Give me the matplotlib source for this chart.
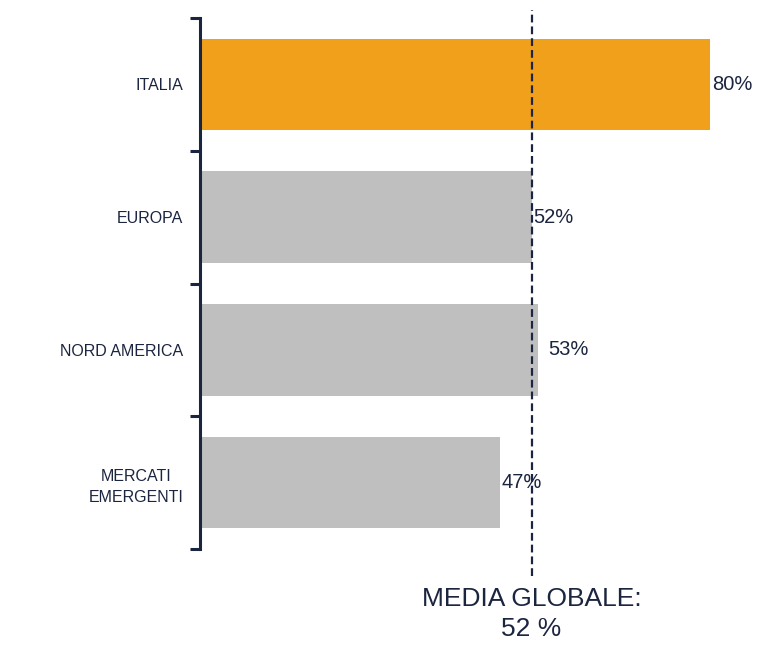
import matplotlib
matplotlib.use("Agg")
import matplotlib.pyplot as plt

plt.rcParams['font.family'] = ['Liberation Sans', 'DejaVu Sans']

categorie = ["ITALIA", "EUROPA", "NORD AMERICA", "MERCATI\nEMERGENTI"]
valori = [80, 52, 53, 47]
colori = ["#F0A01A", "#BFBFBF", "#BFBFBF", "#BFBFBF"]
media_globale = 52

navy = "#1C2540"

fig = plt.figure(figsize=(7.67, 6.47), dpi=100)
ax = fig.add_axes([200 / 767, 98 / 647, 561 / 767, 531 / 647])

pos = list(range(len(categorie)))
ax.barh(pos, valori, height=0.69, color=colori, zorder=2)

ax.set_xlim(0, 88)
ax.set_ylim(len(categorie) - 0.5, -0.5)

# spine sinistro con tacche tra le categorie
for s in ["top", "right", "bottom"]:
    ax.spines[s].set_visible(False)
ax.spines["left"].set_linewidth(2.2)
ax.spines["left"].set_color(navy)
ax.set_xticks([])
ax.set_yticks([p - 0.5 for p in pos] + [len(categorie) - 0.5])
ax.set_yticklabels([])
ax.tick_params(axis="y", which="major", direction="out", length=7, width=2.2, color=navy)
ax.set_yticks(pos, minor=True)
ax.set_yticklabels(categorie, minor=True, fontsize=11.5, color=navy,
                   multialignment="center", linespacing=1.5)
ax.tick_params(axis="y", which="minor", length=0, pad=12)

# linea della media
ax.axvline(media_globale, ymin=-0.05, ymax=1.016, color=navy, lw=1.6,
           ls=(0, (3.5, 1.8)), clip_on=False, zorder=3)

offsets = [0.3, 0.2, 1.6, 0.3]
for p, v, o in zip(pos, valori, offsets):
    ax.text(v + o, p, f"{v}%", va="center", ha="left", fontsize=14.5,
            color=navy, zorder=4)

ax.text(media_globale, -0.123, "MEDIA GLOBALE:\n52 %", transform=ax.get_xaxis_transform(),
        ha="center", va="center", fontsize=19, color=navy, linespacing=1.33)

fig.savefig("out.png", dpi=100)
